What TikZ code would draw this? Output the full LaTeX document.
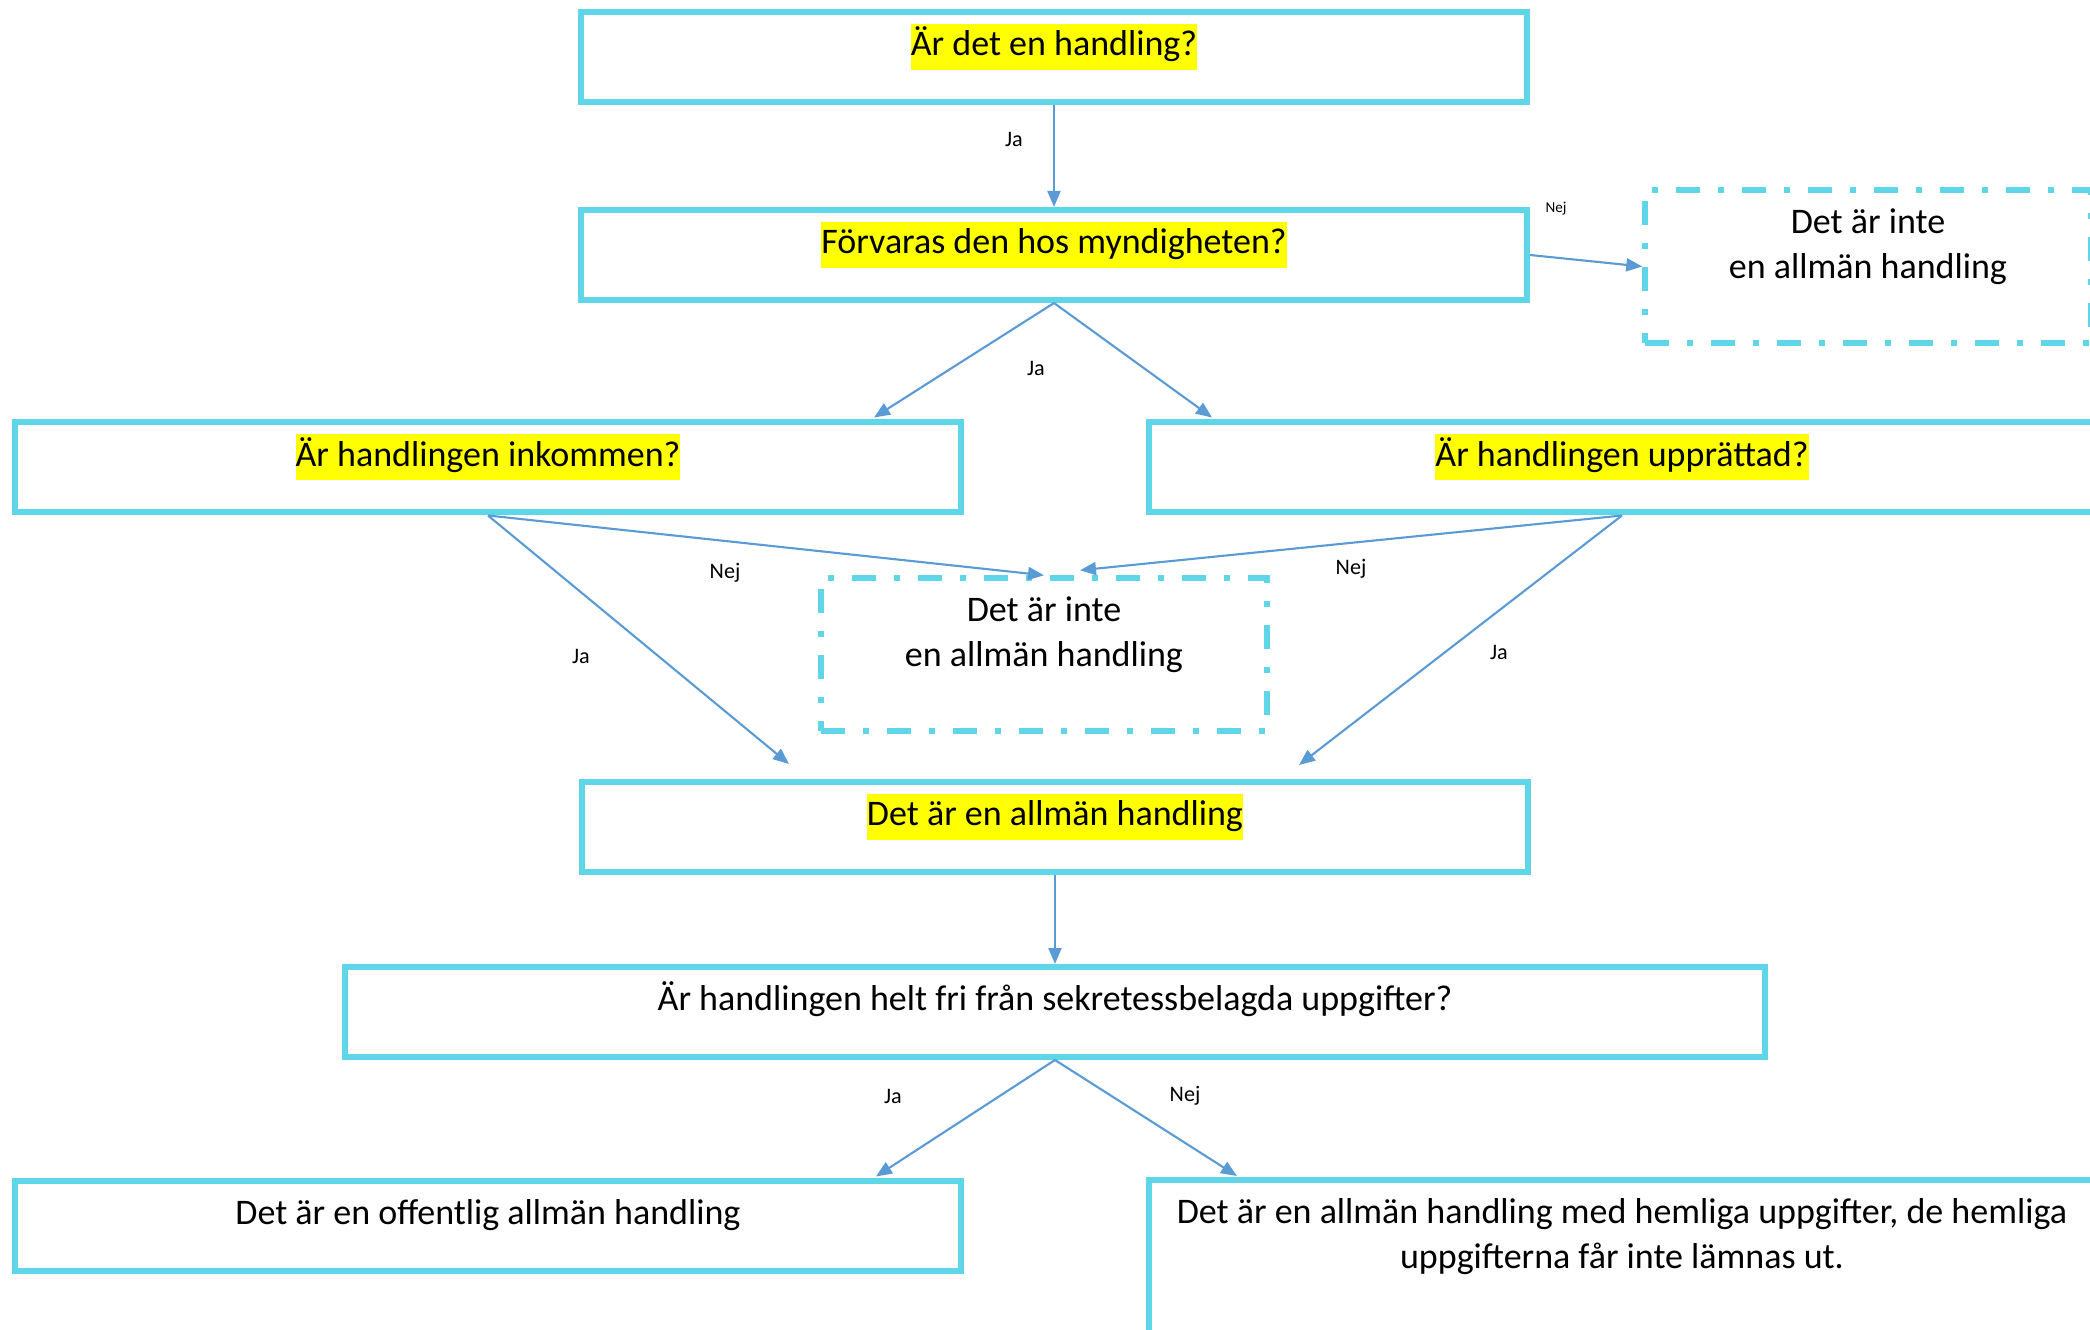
\documentclass[tikz,border=0pt]{standalone}
\usepackage{fontspec}
\setmainfont{Carlito}
\usetikzlibrary{arrows.meta,calc,positioning}
\definecolor{frame}{HTML}{5FD5E8}
\definecolor{flowblue}{HTML}{5B9BD5}
\definecolor{marker}{HTML}{FFFF00}
\newcommand\boxfont{\fontsize{10.24}{12.8}\selectfont}
\newcommand\lblfont{\fontsize{6.3}{7.5}\selectfont}
\newcommand\tinylblfont{\fontsize{4.3}{5}\selectfont}
\tikzset{
  box/.style={draw=frame, line width=0.6mm, minimum width=94.6mm, minimum height=9mm, inner sep=0pt},
  nobox/.style={draw=frame, line width=0.55mm,
    dash pattern=on 2.4mm off 1.8mm on 0.6mm off 1.8mm,
    minimum width=44.6mm, minimum height=15.3mm, inner sep=0pt},
  txt/.style={font=\boxfont, align=center, inner sep=0pt, text height=3.2mm},
  twoline/.style={font=\boxfont, align=center, inner sep=0pt, anchor=base},
  hl/.style={txt, fill=marker, text depth=1.4mm},
  lbl/.style={font=\lblfont, inner sep=0pt},
  flow/.style={draw=flowblue, line width=0.6pt, -{Triangle[length=1.6mm, width=1.3mm]}},
}
\begin{document}
\begin{tikzpicture}[x=0.1mm, y=-0.1mm]
  \useasboundingbox (0,0) rectangle (2090,1330);

  % frames
  \path
    (1054,57)    node[box] (q1) {}
    (1054,255)   node[box] (q2) {}
    (488,467.5)  node[box] (q3) {}
    (1622,467.5) node[box] (q4) {}
    (1055,827)   node[box] (q5) {}
    (1055,1012)  node[box, minimum width=142mm] (q6) {}
    (488,1225.5) node[box] (q7) {}
    (1622,1270)  node[box, minimum height=18mm] (q8) {}
  ;
  \path
    (1868,266.5) node[nobox] (n1) {}
    (1044,654.5) node[nobox] (n2) {}
  ;

  % texts
  \node[hl, below=1.4mm of q1.north] (q1t) {Är det en handling?};
  \node[hl, below=1.4mm of q2.north] (q2t) {Förvaras den hos myndigheten?};
  \node[hl, below=1.4mm of q3.north] (q3t) {Är handlingen inkommen?};
  \node[hl, below=1.4mm of q4.north] (q4t) {Är handlingen upprättad?};
  \node[hl, below=1.4mm of q5.north] (q5t) {Det är en allmän handling};
  \node[txt, below=1.4mm of q6.north] (q6t) {Är handlingen helt fri från sekretessbelagda uppgifter?};
  \node[txt, below=1.4mm of q7.north] (q7t) {Det är en offentlig allmän handling};
  \node[twoline] (q8t) at ($(q8.north)+(0,91)$) {Det är en allmän handling med hemliga uppgifter, de hemliga\\uppgifterna får inte lämnas ut.};
  \node[twoline] (n1t) at ($(n1.north)+(0,91)$) {Det är inte\\en allmän handling};
  \node[twoline] (n2t) at ($(n2.north)+(0,91)$) {Det är inte\\en allmän handling};

  % connectors
  \draw[flow] (q1.south) -- (q2.north);
  \draw[flow] (q2.east) -- (n1.west);
  \draw[flow] (q2.south) -- ($(q3.north east)+(-90,-2)$);
  \draw[flow] (q2.south) -- ($(q4.north west)+(66,-2)$);
  \draw[flow] (q3.south) -- ($(q5.north west)+(210,-15)$);
  \draw[flow] (q3.south) -- (n2.north);
  \draw[flow] (q4.south) -- ($(n2.north)+(36,-5)$);
  \draw[flow] (q4.south) -- ($(q5.north east)+(-232,-14)$);
  \draw[flow] (q5.south) -- (q6.north);
  \draw[flow] (q6.south) -- ($(q7.north east)+(-88,-1)$);
  \draw[flow] (q6.south) -- ($(q8.north west)+(91,-1)$);

  % answers
  \node[lbl] (ja1) at (1014,139) {Ja};
  \node[lbl, font=\tinylblfont] (nej1) at (1556,209) {Nej};
  \node[lbl] (ja2) at (1036,368) {Ja};
  \node[lbl] (nej2) at (725,573) {Nej};
  \node[lbl] (ja3) at (581,656) {Ja};
  \node[lbl] (nej3) at (1351,569) {Nej};
  \node[lbl] (ja4) at (1499,652) {Ja};
  \node[lbl] (ja5) at (893,1096) {Ja};
  \node[lbl] (nej4) at (1185,1096) {Nej};
\end{tikzpicture}
\end{document}
